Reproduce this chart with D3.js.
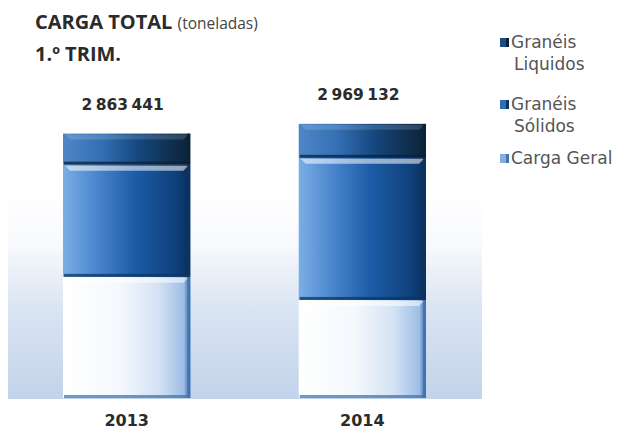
<!DOCTYPE html>
<html>
<head>
<meta charset="utf-8">
<script src="https://cdn.jsdelivr.net/npm/d3@7"></script>
<style>
  body { margin: 0; background: #fff; }
  svg { display: block; }
</style>
</head>
<body>
<svg id="chart" width="624" height="429"></svg>
<script>
// data
var years = ["2013", "2014"];
var series = ["Carga Geral", "Granéis Sólidos", "Granéis Liquidos"];
var cargaGeral = [1312000, 1062000];
var graneisSolidos = [1215000, 1539000];
var graneisLiquidos = [336441, 368132];
var totals = [2863441, 2969132];
var totalLabels = ["2 863 441", "2 969 132"];

var width = 624, height = 429;
var svg = d3.select("#chart");

var rows = years.map(function(y, i) {
  return { year: y, "Carga Geral": cargaGeral[i], "Granéis Sólidos": graneisSolidos[i], "Granéis Liquidos": graneisLiquidos[i], total: totals[i], label: totalLabels[i] };
});

var x = d3.scaleBand().domain(years).range([63, 426]).paddingInner(0.46).paddingOuter(0);
var y = d3.scaleLinear().domain([0, 3000000]).range([398, 121]);

var defs = svg.append("defs");

function hGrad(id, stops) {
  var g = defs.append("linearGradient").attr("id", id)
    .attr("x1", "0%").attr("x2", "100%").attr("y1", "0%").attr("y2", "0%");
  stops.forEach(function(s) {
    g.append("stop").attr("offset", s[0]).attr("stop-color", s[1]);
  });
}
hGrad("gGeral", [["0%", "#ffffff"], ["45%", "#f4f8fd"], ["75%", "#d3e2f4"], ["95%", "#9dbde5"], ["100%", "#2a5f9e"]]);
hGrad("gSolidos", [["0%", "#7aaee4"], ["25%", "#4d88cf"], ["55%", "#1e5da8"], ["90%", "#0e3f7a"], ["100%", "#0a2c55"]]);
hGrad("gLiquidos", [["0%", "#4f86c8"], ["30%", "#3470b4"], ["60%", "#14467e"], ["85%", "#0f2f4f"], ["100%", "#0c2238"]]);

// plot area background fade
var bg = defs.append("linearGradient").attr("id", "gBg")
  .attr("x1", "0%").attr("x2", "0%").attr("y1", "0%").attr("y2", "100%");
bg.append("stop").attr("offset", "0%").attr("stop-color", "#ffffff");
bg.append("stop").attr("offset", "25%").attr("stop-color", "#f7f9fd");
bg.append("stop").attr("offset", "55%").attr("stop-color", "#dbe5f3");
bg.append("stop").attr("offset", "100%").attr("stop-color", "#c2d3ea");

svg.append("rect")
  .attr("x", 8).attr("y", 195)
  .attr("width", 474).attr("height", y(0) - 195)
  .attr("fill", "url(#gBg)");

svg.append("line")
  .attr("x1", 8).attr("x2", 482)
  .attr("y1", y(0) + 0.5).attr("y2", y(0) + 0.5)
  .attr("stroke", "#c3d1e6").attr("stroke-width", 1);

var fills = { "Carga Geral": "url(#gGeral)", "Granéis Sólidos": "url(#gSolidos)", "Granéis Liquidos": "url(#gLiquidos)" };
var edge = { "Carga Geral": "#3f74b5", "Granéis Sólidos": "#0b3563", "Granéis Liquidos": "#0b2036" };
var legendFill = { "Carga Geral": "#86acd9", "Granéis Sólidos": "#2f6db5", "Granéis Liquidos": "#1d4c80" };

var stacked = d3.stack().keys(series)(rows);

var layers = svg.selectAll("g.layer")
  .data(stacked)
  .enter().append("g")
  .attr("class", "layer");

layers.selectAll("rect.seg")
  .data(function(d) { return d.map(function(v) { v.key = d.key; return v; }); })
  .enter().append("rect")
  .attr("class", "seg")
  .attr("x", function(d) { return x(d.data.year); })
  .attr("y", function(d) { return y(d[1]); })
  .attr("width", x.bandwidth())
  .attr("height", function(d) { return y(d[0]) - y(d[1]); })
  .attr("fill", function(d) { return fills[d.key]; });

// bevel: bottom dark edge
layers.selectAll("rect.bot")
  .data(function(d) { return d; })
  .enter().append("rect")
  .attr("x", function(d) { return x(d.data.year) + 1; })
  .attr("y", function(d) { return y(d[0]) - 3; })
  .attr("width", x.bandwidth() - 2)
  .attr("height", 3)
  .attr("fill", function(d) { return edge[d.key]; })
  .attr("opacity", 0.75);

// bevel: top highlight
layers.selectAll("path.hl")
  .data(function(d) { return d; })
  .enter().append("path")
  .attr("d", function(d) {
    var x0 = x(d.data.year), x1 = x0 + x.bandwidth(), t = y(d[1]);
    return "M" + (x0 + 2) + "," + (t + 1) + "L" + (x1 - 2) + "," + (t + 1) +
      "L" + (x1 - 7) + "," + (t + 6) + "L" + (x0 + 7) + "," + (t + 6) + "Z";
  })
  .attr("fill", "#ffffff")
  .attr("opacity", function(d) { return d.key == "Granéis Liquidos" ? 0.15 : 0.55; });

// right edge shade
layers.selectAll("rect.re")
  .data(function(d) { return d; })
  .enter().append("rect")
  .attr("x", function(d) { return x(d.data.year) + x.bandwidth() - 3; })
  .attr("y", function(d) { return y(d[1]); })
  .attr("width", 3)
  .attr("height", function(d) { return y(d[0]) - y(d[1]); })
  .attr("fill", function(d) { return edge[d.key]; })
  .attr("opacity", 0.8);

// total labels
svg.selectAll("text.total")
  .data(rows)
  .enter().append("text")
  .attr("class", "total")
  .attr("x", function(d) { return x(d.year) + x.bandwidth() / 2 - 4; })
  .attr("y", function(d) { return y(d.total) - 24; })
  .attr("text-anchor", "middle")
  .style("font-family", "'DejaVu Sans', Verdana, sans-serif")
  .style("font-weight", "bold")
  .style("font-size", "15.5px")
  .style("word-spacing", "-2px")
  .attr("fill", "#2b2b2b")
  .text(function(d) { return d.label; });

// x axis labels
var xAxis = svg.append("g")
  .attr("transform", "translate(0," + (y(0) + 14) + ")")
  .call(d3.axisBottom(x).tickSize(0).tickPadding(0));
xAxis.select(".domain").remove();
xAxis.selectAll("text")
  .attr("dy", "0")
  .attr("y", 14)
  .style("font-family", "'DejaVu Sans', Verdana, sans-serif")
  .style("font-weight", "bold")
  .style("font-size", "16px")
  .attr("fill", "#2b2b2b");

// title
var title = svg.append("text")
  .attr("x", 35).attr("y", 29)
  .style("font-family", "'Open Sans', sans-serif")
  .attr("fill", "#2b2b2b");
title.append("tspan").style("font-weight", "bold").style("font-size", "20px").text("CARGA TOTAL ");
title.append("tspan").style("font-size", "15.5px").attr("fill", "#444").text("(toneladas)");
svg.append("text")
  .attr("x", 35).attr("y", 61)
  .style("font-family", "'Open Sans', sans-serif")
  .style("font-weight", "bold").style("font-size", "20px")
  .attr("fill", "#2b2b2b")
  .text("1.º TRIM.");

// legend
var legendItems = [
  { key: "Granéis Liquidos", lines: ["Granéis", "Liquidos"], y: 48 },
  { key: "Granéis Sólidos", lines: ["Granéis", "Sólidos"], y: 110 },
  { key: "Carga Geral", lines: ["Carga Geral"], y: 164 }
];
var legend = svg.selectAll("g.leg")
  .data(legendItems)
  .enter().append("g")
  .attr("class", "leg")
  .attr("transform", function(d) { return "translate(500," + d.y + ")"; });
legend.append("rect")
  .attr("x", 0).attr("y", -10)
  .attr("width", 9).attr("height", 9)
  .attr("fill", function(d) { return legendFill[d.key]; });
legend.append("rect")
  .attr("x", 6).attr("y", -10)
  .attr("width", 3).attr("height", 9)
  .attr("fill", function(d) { return edge[d.key]; });
legend.append("text")
  .attr("x", 11).attr("y", 0)
  .style("font-family", "'DejaVu Sans', Verdana, sans-serif")
  .style("font-size", "17px")
  .attr("fill", "#555")
  .selectAll("tspan")
  .data(function(d) { return d.lines; })
  .enter().append("tspan")
  .attr("x", function(d, i) { return i == 0 ? 11 : 14; })
  .attr("dy", function(d, i) { return i == 0 ? 0 : 22; })
  .text(function(d) { return d; });
</script>
</body>
</html>
